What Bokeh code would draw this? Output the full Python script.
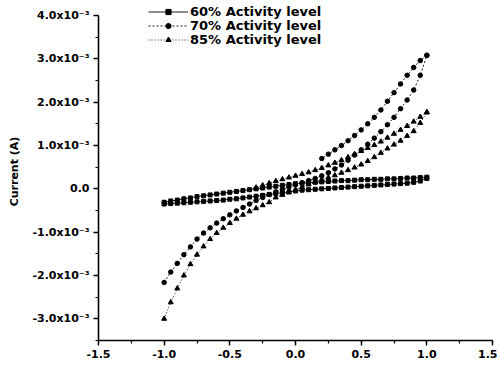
from bokeh.plotting import figure
from bokeh.models import (Legend, LegendItem, SingleIntervalTicker, CustomJSTickFormatter,
                          Range1d, ColumnDataSource)
from bokeh.embed import file_html
from bokeh.resources import INLINE

# ---- data (potential in V, current in mA; plotted in A) ----
V = [-1.0, -0.95, -0.9, -0.85, -0.8, -0.75, -0.7, -0.65, -0.6, -0.55, -0.5, -0.45, -0.4,
     -0.35, -0.3, -0.25, -0.2, -0.15, -0.1, -0.05, 0.0, 0.05, 0.1, 0.15, 0.2, 0.25, 0.3,
     0.35, 0.4, 0.45, 0.5, 0.55, 0.6, 0.65, 0.7, 0.75, 0.8, 0.85, 0.9, 0.95, 1.0]

# 60% activity level: forward (lower) and return (upper) branches, listed along V
i60_fwd = [-0.35, -0.34, -0.33, -0.32, -0.31, -0.30, -0.29, -0.28, -0.27, -0.26, -0.24,
           -0.23, -0.21, -0.19, -0.17, -0.15, -0.13, -0.11, -0.09, -0.07, -0.05, -0.03,
           -0.02, -0.01, 0.0, 0.01, 0.02, 0.03, 0.04, 0.05, 0.06, 0.07, 0.08, 0.09, 0.10,
           0.11, 0.12, 0.13, 0.15, 0.18, 0.24]
i60_ret = [-0.31, -0.28, -0.26, -0.23, -0.21, -0.18, -0.16, -0.14, -0.12, -0.10, -0.08,
           -0.06, -0.04, -0.02, 0.0, 0.02, 0.04, 0.06, 0.08, 0.10, 0.12, 0.13, 0.14, 0.15,
           0.16, 0.17, 0.18, 0.19, 0.19, 0.20, 0.21, 0.21, 0.22, 0.22, 0.23, 0.23, 0.24,
           0.25, 0.25, 0.26, 0.27]

# 70% activity level
i70_fwd = [-2.16, -1.92, -1.72, -1.52, -1.34, -1.16, -1.02, -0.90, -0.79, -0.69, -0.60,
           -0.51, -0.43, -0.35, -0.27, -0.20, -0.13, -0.07, -0.01, 0.04, 0.09, 0.14, 0.19,
           0.24, 0.30, 0.37, 0.46, 0.55, 0.66, 0.78, 0.90, 1.03, 1.17, 1.32, 1.48, 1.65,
           1.85, 2.05, 2.28, 2.62, 3.08]
V70_ret = [0.2, 0.25, 0.3, 0.35, 0.4, 0.45, 0.5, 0.55, 0.6, 0.65, 0.7, 0.75, 0.8, 0.85,
           0.9, 0.95, 1.0]
i70_ret = [0.70, 0.80, 0.90, 1.00, 1.11, 1.23, 1.36, 1.50, 1.65, 1.82, 2.02, 2.22, 2.42,
           2.62, 2.80, 2.96, 3.08]

# 85% activity level
i85_fwd = [-3.00, -2.62, -2.30, -2.00, -1.74, -1.52, -1.33, -1.16, -1.02, -0.90, -0.79,
           -0.69, -0.60, -0.52, -0.45, -0.38, -0.31, -0.20, -0.14, -0.08, -0.02, 0.04,
           0.10, 0.16, 0.21, 0.26, 0.31, 0.37, 0.43, 0.49, 0.56, 0.64, 0.73, 0.83, 0.93,
           1.02, 1.11, 1.22, 1.33, 1.52, 1.76]
V85_ret = [-0.3, -0.25, -0.2, -0.15, -0.1, -0.05, 0.0, 0.05, 0.1, 0.15, 0.2, 0.25, 0.3,
           0.35, 0.4, 0.45, 0.5, 0.55, 0.6, 0.65, 0.7, 0.75, 0.8, 0.85, 0.9, 0.95, 1.0]
i85_ret = [0.03, 0.08, 0.13, 0.18, 0.22, 0.26, 0.30, 0.34, 0.38, 0.43, 0.48, 0.54, 0.60,
           0.66, 0.73, 0.80, 0.87, 0.94, 1.01, 1.09, 1.18, 1.27, 1.36, 1.45, 1.55, 1.66,
           1.77]

labels = ["60% Activity level", "70% Activity level", "85% Activity level"]

FONT = "DejaVu Sans"


def loop(v_f, i_f, v_r, i_r):
    xs = list(v_f) + list(reversed(v_r))
    ys = [c * 1e-3 for c in i_f] + [c * 1e-3 for c in reversed(i_r)]
    return ColumnDataSource(dict(x=xs, y=ys))


s60 = loop(V, i60_fwd, V, i60_ret)
s70 = loop(V, i70_fwd, V70_ret, i70_ret)
s85 = loop(V, i85_fwd, V85_ret, i85_ret)

p = figure(width=497, height=369, output_backend="svg", toolbar_location=None,
           x_range=Range1d(-1.5, 1.5), y_range=Range1d(-3.5e-3, 4.3e-3),
           min_border_left=98, min_border_right=5, min_border_top=2, min_border_bottom=29)
p.outline_line_color = None
p.grid.visible = False
p.background_fill_color = "white"

l60 = p.line("x", "y", source=s60, line_color="black", line_width=0.9)
m60 = p.scatter("x", "y", source=s60, marker="square", size=4, color="black")
l70 = p.line("x", "y", source=s70, line_color="black", line_width=0.9, line_dash="2 2")
m70 = p.scatter("x", "y", source=s70, marker="circle", size=4.5, color="black")
l85 = p.line("x", "y", source=s85, line_color="black", line_width=0.9, line_dash="1 2")
m85 = p.scatter("x", "y", source=s85, marker="triangle", size=5, color="black")

p.xaxis.ticker = SingleIntervalTicker(interval=0.5, num_minor_ticks=2)
p.yaxis.ticker = SingleIntervalTicker(interval=1e-3, num_minor_ticks=2)
p.yaxis.bounds = (-3.5e-3, 4.0e-3)
p.xaxis.formatter = CustomJSTickFormatter(code="return tick.toFixed(1);")
p.yaxis.formatter = CustomJSTickFormatter(code="""
if (Math.abs(tick) < 1e-12) { return "0.0"; }
return (tick * 1000).toFixed(1) + "x10\u207B\u00B3";
""")
for ax in (p.xaxis[0], p.yaxis[0]):
    ax.axis_line_width = 1.6
    ax.axis_line_color = "black"
    ax.major_tick_line_width = 1.4
    ax.minor_tick_line_width = 1.2
    ax.major_tick_out = 5
    ax.major_tick_in = 0
    ax.minor_tick_out = 3
    ax.minor_tick_in = 0
    ax.major_label_text_font = FONT
    ax.major_label_text_font_style = "bold"
    ax.major_label_text_font_size = "11px"
    ax.major_label_text_color = "black"
    ax.major_label_standoff = 4

p.yaxis.axis_label = "Current (A)"
p.yaxis.axis_label_text_font = FONT
p.yaxis.axis_label_text_font_style = "bold"
p.yaxis.axis_label_text_font_size = "11px"
p.yaxis.axis_label_text_color = "black"
p.yaxis.axis_label_standoff = 8

# one single-row legend per series so the row spacing can match the reference
rows = [(labels[0], [l60, m60], 321.5), (labels[1], [l70, m70], 307.5),
        (labels[2], [l85, m85], 293.5)]
for lab, rends, ypos in rows:
    lg = Legend(items=[LegendItem(label=lab, renderers=rends)],
                location=(50, ypos), padding=0, margin=0, spacing=0,
                glyph_width=40, glyph_height=13, label_height=13, label_standoff=2,
                border_line_color=None, background_fill_alpha=0,
                label_text_font=FONT, label_text_font_style="bold",
                label_text_font_size="13px", label_text_color="black")
    p.add_layout(lg, "center")

open("out.html", "w").write(file_html(p, INLINE))
